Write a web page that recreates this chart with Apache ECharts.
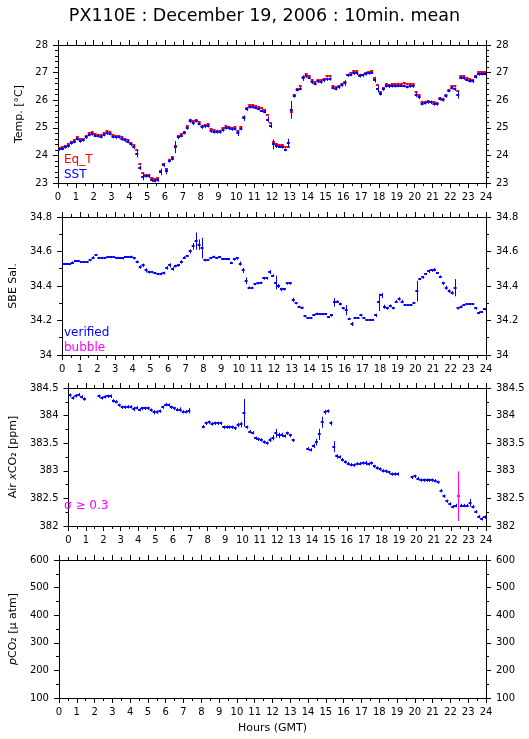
<!DOCTYPE html>
<html>
<head>
<meta charset="utf-8">
<script src="https://cdn.jsdelivr.net/npm/echarts@6.0.0/dist/echarts.min.js"></script>
<style>
html, body { margin: 0; padding: 0; background: #fff; }
#chart { width: 529px; height: 739px; }
</style>
</head>
<body>
<div id="chart"></div>
<script>
  const FONT = 'DejaVu Sans'
  const BLUE = '#0000ff'
  const RED = '#ff0000'
  const MAGENTA = '#ff00ff'
  const SIGMA_FLAG = 0.3

  // 10 min means, 6 slots per hour, slot k covers k/6 .. (k+1)/6 h GMT
  const sst = [
    24.22, 24.24, 24.30, 24.35, 24.45, 24.50,
    24.60, 24.52, 24.55, 24.65, 24.75, 24.78,
    24.72, 24.70, 24.68, 24.75, 24.80, 24.78,
    24.68, 24.65, 24.66, 24.60, 24.55, 24.50,
    24.40, 24.30, 24.05, 23.55, 23.22, 23.25,
    23.25, 23.10, 23.07, 23.10, 23.40, 23.65,
    23.42, 23.80, 23.88, 24.30, 24.65, 24.72,
    24.82, 25.00, 25.25, 25.17, 25.25, 25.15,
    25.02, 25.05, 25.07, 24.90, 24.85, 24.85,
    24.85, 24.92, 25.00, 24.98, 24.95, 24.97,
    24.80, 24.97, 25.35, 25.68, 25.75, 25.75,
    25.72, 25.68, 25.62, 25.58, 25.30, 25.07,
    24.40, 24.33, 24.32, 24.30, 24.20, 24.45,
    25.65, 26.15, 26.38, 26.42, 26.80, 26.87,
    26.82, 26.65, 26.60, 26.68, 26.66, 26.72,
    26.76, 26.77, 26.45, 26.42, 26.47, 26.55,
    26.62, 26.90, 26.93, 26.98, 26.97, 26.88,
    26.90, 26.95, 26.98, 27.00, 26.72, 26.40,
    26.23, 26.40, 26.52, 26.50, 26.52, 26.52,
    26.52, 26.53, 26.52, 26.48, 26.50, 26.50,
    26.20, 26.10, 25.87, 25.90, 25.93, 25.92,
    25.85, 25.85, 26.05, 26.02, 26.15, 26.35,
    26.45, 26.40, 26.20, 26.82, 26.80, 26.75,
    26.70, 26.68, 26.85, 26.95, 26.95, 26.96
  ]
  const sstSd = [
    .05, .05, .06, .06, .06, .06,
    .06, .06, .05, .06, .06, .06,
    .05, .05, .06, .06, .06, .05,
    .06, .06, .05, .06, .06, .06,
    .06, .07, .12, .08, .12, .06,
    .07, .06, .05, .06, .12, .07,
    .10, .06, .06, .22, .06, .06,
    .06, .07, .07, .07, .06, .06,
    .06, .06, .06, .08, .06, .06,
    .06, .06, .06, .06, .06, .06,
    .10, .06, .10, .07, .05, .05,
    .05, .05, .05, .06, .10, .08,
    .18, .06, .05, .05, .05, .15,
    .32, .06, .06, .06, .10, .06,
    .06, .06, .06, .06, .06, .06,
    .06, .06, .06, .06, .06, .06,
    .10, .06, .06, .06, .06, .06,
    .06, .06, .06, .05, .08, .12,
    .06, .06, .06, .06, .06, .06,
    .05, .05, .05, .05, .05, .05,
    .08, .06, .06, .06, .06, .06,
    .05, .05, .06, .07, .06, .06,
    .06, .06, .14, .06, .06, .06,
    .06, .06, .07, .06, .05, .05
  ]
  const eqT = [
    24.26, 24.30, 24.35, 24.42, 24.50, 24.56,
    24.65, 24.60, 24.60, 24.70, 24.80, 24.84,
    24.78, 24.75, 24.73, 24.82, 24.87, 24.84,
    24.74, 24.70, 24.70, 24.66, 24.60, 24.56,
    24.46, 24.38, 24.18, 23.68, 23.35, 23.30,
    23.30, 23.18, 23.14, 23.18, 23.45, 23.70,
    23.50, 23.85, 23.93, 24.35, 24.70, 24.78,
    24.86, 25.06, 25.30, 25.24, 25.28, 25.20,
    25.08, 25.10, 25.12, 24.95, 24.92, 24.90,
    24.90, 24.98, 25.06, 25.04, 25.00, 25.02,
    24.88, 25.02, 25.40, 25.72, 25.82, 25.82,
    25.78, 25.74, 25.70, 25.66, 25.45, 25.17,
    24.50, 24.40, 24.37, 24.36, 24.30, 24.30,
    25.57, 26.20, 26.42, 26.50, 26.85, 26.95,
    26.88, 26.72, 26.65, 26.72, 26.72, 26.78,
    26.88, 26.88, 26.50, 26.47, 26.52, 26.60,
    26.67, 26.92, 26.97, 27.05, 27.05, 26.93,
    26.93, 27.00, 27.02, 27.05, 26.82, 26.55,
    26.30, 26.45, 26.58, 26.55, 26.58, 26.60,
    26.60, 26.60, 26.62, 26.58, 26.58, 26.58,
    26.30, 26.18, 25.95, 25.95, 25.98, 25.95,
    25.92, 25.90, 26.08, 26.05, 26.18, 26.38,
    26.50, 26.50, 26.33, 26.87, 26.87, 26.82,
    26.77, 26.72, 26.88, 27.02, 27.02, 27.02
  ]
  const eqTSd = [
    .03, .03, .03, .03, .03, .03,
    .03, .03, .03, .03, .03, .03,
    .03, .03, .03, .03, .03, .03,
    .03, .03, .03, .03, .03, .03,
    .03, .03, .04, .04, .03, .03,
    .03, .03, .03, .03, .03, .03,
    .03, .03, .03, .03, .03, .03,
    .03, .03, .03, .03, .03, .03,
    .03, .03, .03, .03, .03, .03,
    .03, .03, .03, .03, .03, .03,
    .03, .03, .03, .03, .03, .03,
    .03, .03, .03, .03, .03, .03,
    .04, .03, .03, .03, .03, .03,
    .04, .03, .03, .03, .03, .03,
    .03, .03, .03, .03, .03, .03,
    .03, .03, .03, .03, .03, .03,
    .03, .03, .03, .03, .03, .03,
    .03, .03, .03, .03, .03, .03,
    .03, .03, .03, .03, .03, .03,
    .03, .03, .03, .03, .03, .03,
    .03, .03, .03, .03, .03, .03,
    .03, .03, .03, .03, .03, .03,
    .03, .03, .03, .03, .03, .03,
    .03, .03, .03, .03, .03, .03
  ]
  const sal = [
    34.530, 34.530, 34.530, 34.535, 34.545, 34.545,
    34.540, 34.540, 34.540, 34.550, 34.565, 34.580,
    34.565, 34.565, 34.565, 34.570, 34.570, 34.570,
    34.565, 34.560, 34.560, 34.570, 34.570, 34.570,
    34.560, 34.540, 34.510, 34.520, 34.490, 34.480,
    34.480, 34.475, 34.470, 34.470, 34.475, 34.505,
    34.520, 34.500, 34.515, 34.520, 34.540, 34.565,
    34.575, 34.600, 34.630, 34.660, 34.640, 34.620,
    34.550, 34.550, 34.560, 34.570, 34.565, 34.570,
    34.555, 34.555, 34.555, 34.535, 34.555, 34.560,
    34.530, 34.490, 34.430, 34.390, 34.390, 34.410,
    34.415, 34.420, 34.445, 34.445, 34.480, 34.460,
    34.420, 34.400, 34.380, 34.380, 34.415, 34.415,
    34.320, 34.300, 34.280, 34.275, 34.225, 34.215,
    34.215, 34.230, 34.240, 34.235, 34.235, 34.235,
    34.220, 34.230, 34.305, 34.310, 34.295, 34.270,
    34.260, 34.210, 34.180, 34.215, 34.215, 34.230,
    34.215, 34.205, 34.205, 34.205, 34.230, 34.305,
    34.345, 34.280, 34.270, 34.285, 34.270, 34.310,
    34.325, 34.310, 34.290, 34.290, 34.290, 34.300,
    34.370, 34.440, 34.450, 34.470, 34.485, 34.490,
    34.495, 34.475, 34.455, 34.415, 34.390, 34.370,
    34.360, 34.390, 34.270, 34.280, 34.290, 34.295,
    34.295, 34.295, 34.270, 34.245, 34.250, 34.265
  ]
  const salSd = [
    .004, .004, .004, .008, .004, .004,
    .004, .004, .004, .006, .008, .006,
    .004, .004, .004, .004, .004, .004,
    .004, .004, .006, .004, .004, .006,
    .006, .008, .010, .010, .012, .008,
    .006, .006, .006, .008, .008, .010,
    .012, .012, .008, .008, .010, .008,
    .006, .012, .020, .050, .030, .060,
    .008, .004, .004, .006, .004, .004,
    .004, .004, .006, .006, .008, .008,
    .012, .015, .020, .008, .006, .006,
    .006, .006, .008, .008, .012, .008,
    .040, .012, .010, .006, .008, .008,
    .012, .006, .006, .006, .006, .004,
    .004, .004, .006, .004, .004, .004,
    .006, .008, .025, .008, .008, .006,
    .030, .006, .012, .006, .006, .008,
    .004, .004, .004, .004, .010, .050,
    .015, .012, .008, .008, .006, .008,
    .010, .010, .004, .004, .004, .004,
    .060, .006, .008, .006, .010, .008,
    .010, .006, .006, .010, .012, .010,
    .010, .050, .006, .008, .006, .004,
    .004, .004, .008, .008, .006, .006
  ]
  const airCO2 = [
    384.37, 384.32, 384.36, 384.38, 384.34, 384.30,
    null, null, null, null, 384.35, 384.32,
    384.34, 384.35, 384.35, 384.27, 384.25, 384.19,
    384.15, 384.15, 384.16, 384.16, 384.12, 384.14,
    384.11, 384.13, 384.13, 384.13, 384.10, 384.06,
    384.06, 384.08, 384.15, 384.20, 384.19, 384.15,
    384.13, 384.11, 384.11, 384.07, 384.07, 384.09,
    null, null, null, null, 383.80, 383.86,
    383.88, 383.85, 383.86, 383.86, 383.86, 383.79,
    383.79, 383.79, 383.79, 383.77, 383.83, 383.84,
    384.05, 383.79, 383.71, 383.69, 383.59, 383.57,
    383.56, 383.52, 383.50, 383.56, 383.60, 383.68,
    383.64, 383.65, 383.63, 383.68, 383.64, 383.55,
    null, null, null, null, 383.40, 383.38,
    383.45, 383.52, 383.66, 383.88, 384.06, 384.08,
    383.86, 383.44, 383.26, 383.25, 383.20, 383.16,
    383.13, 383.11, 383.10, 383.13, 383.13, 383.14,
    383.14, 383.12, 383.14, 383.08, 383.05, 383.03,
    383.00, 382.99, 382.97, 382.94, 382.94, 382.94,
    null, null, null, null, 382.88, 382.90,
    382.86, 382.83, 382.83, 382.83, 382.83, 382.83,
    382.82, 382.79, 382.64, 382.54, 382.45, 382.40,
    382.35, 382.37, 382.54, 382.37, 382.37, 382.37,
    382.42, 382.35, 382.26, 382.17, 382.13, 382.16
  ]
  const airSd = [
    .03, .03, .03, .03, .03, .03,
    0, 0, 0, 0, .03, .03,
    .03, .03, .03, .03, .03, .03,
    .03, .03, .03, .03, .04, .03,
    .03, .03, .03, .03, .03, .04,
    .03, .03, .03, .03, .03, .03,
    .03, .03, .04, .03, .03, .05,
    0, 0, 0, 0, .03, .03,
    .03, .03, .03, .03, .03, .03,
    .03, .03, .03, .03, .04, .05,
    .25, .03, .03, .03, .03, .03,
    .03, .03, .03, .04, .05, .08,
    .05, .04, .03, .03, .03, .03,
    0, 0, 0, 0, .03, .03,
    .04, .06, .10, .10, .04, .03,
    .04, .10, .04, .03, .03, .03,
    .03, .03, .03, .03, .03, .03,
    .04, .03, .03, .03, .03, .03,
    .03, .03, .03, .03, .03, .03,
    0, 0, 0, 0, .03, .03,
    .03, .03, .03, .03, .03, .03,
    .03, .03, .03, .03, .03, .03,
    .03, .03, .45, .03, .03, .03,
    .07, .03, .03, .03, .03, .03
  ]

  const GRID_TOPS = [45, 217, 388, 560]

  // [slot start h, slot end h, value, sd]
  function toBars(values, sds, keep) {
    const out = []
    values.forEach((v, k) => {
      if (v === null) return
      if (keep && !keep(sds[k])) return
      out.push([k / 6, (k + 1) / 6, v, sds[k]])
    })
    return out
  }

  function renderBar(params, api) {
    const t0 = api.value(0), t1 = api.value(1), v = api.value(2), sd = api.value(3)
    const a = api.coord([t0, v])
    const b = api.coord([t1, v])
    const hi = api.coord([(t0 + t1) / 2, v + sd])
    const lo = api.coord([(t0 + t1) / 2, v - sd])
    const color = api.visual('color')
    const y = Math.round(a[1])
    const x = Math.round(hi[0]) + 0.5
    return {
      type: 'group',
      children: [
        {type: 'line', shape: {x1: a[0], y1: y, x2: b[0], y2: y}, style: {stroke: color, lineWidth: 2}},
        {type: 'line', shape: {x1: x, y1: hi[1], x2: x, y2: lo[1]}, style: {stroke: color, lineWidth: 1}}
      ]
    }
  }

  function barSeries(name, gi, data, color) {
    return {
      name: name,
      type: 'custom',
      xAxisIndex: gi,
      yAxisIndex: gi,
      clip: true,
      itemStyle: {color: color},
      encode: {x: [0, 1], y: 2},
      renderItem: renderBar,
      data: data
    }
  }

  function xAxisFor(gi, pos) {
    const ax = {
      type: 'value',
      gridIndex: gi,
      position: pos,
      min: 0,
      max: 24,
      interval: 1,
      axisLine: {onZero: false, lineStyle: {color: '#000', width: 1}},
      axisTick: {length: 5, lineStyle: {color: '#000'}},
      minorTick: {show: true, splitNumber: 2, length: 3, lineStyle: {color: '#000'}},
      splitLine: {show: false},
      axisLabel: {show: pos === 'bottom', margin: 9, color: '#000', fontFamily: FONT, fontSize: 10,
        showMinLabel: true, showMaxLabel: true}
    }
    if (gi === 3 && pos === 'bottom') {
      ax.name = 'Hours (GMT)'
      ax.nameLocation = 'middle'
      ax.nameGap = 25
      ax.nameTextStyle = {color: '#000', fontFamily: FONT, fontSize: 11}
    }
    return ax
  }

  function yAxisFor(gi, pos, s) {
    const ax = {
      type: 'value',
      gridIndex: gi,
      position: pos,
      min: s.min,
      max: s.max,
      interval: s.interval,
      axisLine: {show: true, onZero: false, lineStyle: {color: '#000', width: 1}},
      axisTick: {show: true, length: 5, lineStyle: {color: '#000'}},
      minorTick: {show: true, splitNumber: s.minor, length: 3, lineStyle: {color: '#000'}},
      splitLine: {show: false},
      axisLabel: {margin: 10, color: '#000', fontFamily: FONT, fontSize: 10, showMinLabel: true, showMaxLabel: true}
    }
    if (pos === 'left') {
      ax.name = s.name
      ax.nameLocation = 'middle'
      ax.nameRotate = 90
      ax.nameGap = s.gap
      ax.nameTextStyle = {color: '#000', fontFamily: FONT, fontSize: 11,
        rich: {i: {fontStyle: 'italic', fontFamily: FONT, fontSize: 11, color: '#000'}}}
    }
    return ax
  }

  const yspecs = [
    {min: 23, max: 28, interval: 1, minor: 5, name: 'Temp. [°C]', gap: 26},
    {min: 34, max: 34.8, interval: 0.2, minor: 2, name: 'SBE Sal.', gap: 38},
    {min: 382, max: 384.5, interval: 0.5, minor: 2, name: 'Air {i|x}CO₂ [ppm]', gap: 42},
    {min: 100, max: 600, interval: 100, minor: 2, name: '{i|p}CO₂ [μ atm]', gap: 34}
  ]

  const legendText = {fontFamily: FONT, fontSize: 12}
  function legendFor(items, top) {
    return {
      data: items.map(it => ({name: it[0], textStyle: {color: it[1]}})),
      left: 54,
      top: top,
      orient: 'vertical',
      icon: 'none',
      itemWidth: 0,
      itemHeight: 10,
      itemGap: 3,
      selectedMode: false,
      textStyle: legendText
    }
  }

  const chart = echarts.init(document.getElementById('chart'))
  const option = {
    animation: false,
    backgroundColor: '#fff',
    title: {
      text: 'PX110E : December 19, 2006 : 10min. mean',
      left: 'center',
      top: 2,
      textStyle: {color: '#000', fontFamily: FONT, fontSize: 17.5, fontWeight: 'normal'}
    },
    legend: [
      legendFor([['Eq_T', RED], ['SST', BLUE]], 149),
      legendFor([['verified', BLUE], ['bubble', MAGENTA]], 322),
      legendFor([['σ ≥ 0.3', MAGENTA]], 495)
    ],
    grid: GRID_TOPS.map(t => ({left: 58, right: 43, top: t, height: 138})),
    xAxis: [0, 1, 2, 3].map(i => xAxisFor(i, 'bottom')).concat([0, 1, 2, 3].map(i => xAxisFor(i, 'top'))),
    yAxis: yspecs.map((s, i) => yAxisFor(i, 'left', s)).concat(yspecs.map((s, i) => yAxisFor(i, 'right', s))),
    series: [
      barSeries('Eq_T', 0, toBars(eqT, eqTSd), RED),
      barSeries('SST', 0, toBars(sst, sstSd), BLUE),
      barSeries('verified', 1, toBars(sal, salSd), BLUE),
      barSeries('bubble', 1, [], MAGENTA),
      barSeries('Air xCO2', 2, toBars(airCO2, airSd, sd => sd < SIGMA_FLAG), BLUE),
      barSeries('σ ≥ 0.3', 2, toBars(airCO2, airSd, sd => sd >= SIGMA_FLAG), MAGENTA)
    ]
  }
  chart.setOption(option)
</script>
</body>
</html>
